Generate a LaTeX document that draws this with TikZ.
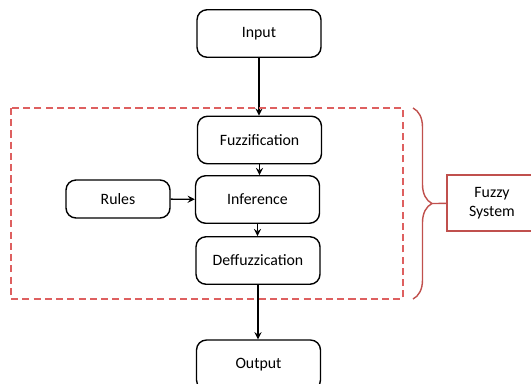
\documentclass[tikz,border=0pt]{standalone}
\usepackage{fontspec}
\setmainfont{Carlito}
\usetikzlibrary{arrows,decorations.pathreplacing}

\definecolor{fuzzred}{RGB}{192,80,77}
\definecolor{dashred}{RGB}{222,96,96}

\begin{document}
\begin{tikzpicture}[x=0.02cm, y=-0.02cm
        , >=stealth
        , every node/.style={ font=\fontsize{9}{10.5}\selectfont }
        , block/.style={ draw, thick, rounded corners=2mm, minimum width=2.48cm, minimum height=0.95cm }
        , flow/.style={ ->, thick }
        ]

        \useasboundingbox (0,0) rectangle (531,383);

        % main chain of blocks
        \node[block] (inp) at (259,33.5) {Input};
        \node[block] (fuz) at (259.5,140) {Fuzzification};
        \node[block] (inf) at (257.5,199.5) {Inference};
        \node[block] (def) at (258,260.5) {Deffuzzication};
        \node[block, minimum height=1cm] (out) at (258.5,365) {Output};

        % rule base feeds the inference step
        \node[block, minimum width=2.08cm, minimum height=0.76cm] (rul) at (118,199) {Rules};

        \draw[flow] (inp.south) -- (inp.south |- fuz.north);
        \draw[flow] (fuz.south) -- (fuz.south |- inf.north);
        \draw[flow] (inf.south) -- (inf.south |- def.north);
        \draw[flow] (def.south) -- (def.south |- out.north);
        \draw[flow] (rul) -- (inf);

        % the fuzzy system itself
        \draw[dashred, thick, dash pattern=on 4pt off 2.4pt] (11,108) rectangle (403,299);

        \draw[fuzzred, thick, decorate, decoration={brace, amplitude=0.38cm}]
            (413,108) -- (413,299);
        \coordinate (tip) at (432,203.5);

        \node[draw=fuzzred, thick, align=center, minimum width=1.8cm, minimum height=1.12cm]
            (sys) at (492,203) {Fuzzy\\System};
        \draw[fuzzred, thick] (tip) -- (sys);

    \end{tikzpicture}
\end{document}
